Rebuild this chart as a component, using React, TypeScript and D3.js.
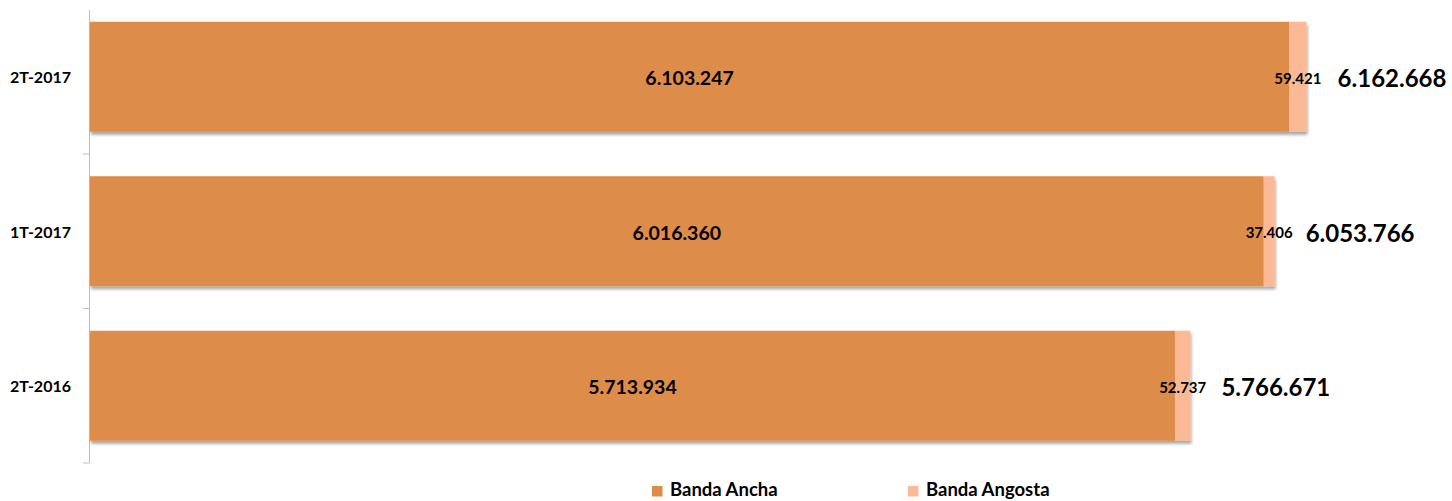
import React from "react";
import * as d3 from "d3";

const categories = ["2T-2017", "1T-2017", "2T-2016"];
const bandaAncha = [6103247, 6016360, 5713934];
const bandaAngosta = [59421, 37406, 52737];
const seriesNames = ["Banda Ancha", "Banda Angosta"];
const axisMin = 2015000;

const W = 1452;
const H = 501;
const COLORS = ["#DD8D48", "#FBB995"];
const FONT = "Lato, 'Open Sans', sans-serif";

const fmt = (v: number) => d3.format(",")(v).replace(/,/g, ".");

export default function App() {
  const totals = bandaAncha.map((v, i) => v + bandaAngosta[i]);
  const x = d3.scaleLinear().domain([axisMin, 6162668]).range([90, 1306.6]);
  const y = d3
    .scaleBand<string>()
    .domain(categories)
    .range([-0.5, 463])
    .paddingInner(0.288)
    .paddingOuter(0.144);
  const bw = y.bandwidth();
  const step = y.step();
  const tickYs = categories.map((c) => (y(c) as number) - (step - bw) / 2 + step);

  return (
    <svg
      width={W}
      height={H}
      style={{ position: "absolute", left: 0, top: 0, background: "#fff" }}
    >
      <defs>
        <filter id="sh" x="-5%" y="-20%" width="110%" height="140%">
          <feDropShadow dx="1" dy="3" stdDeviation="1.6" floodColor="#000" floodOpacity="0.35" />
        </filter>
      </defs>
      {/* axis */}
      <line x1={89.5} x2={89.5} y1={10} y2={463} stroke="#BFBFBF" strokeWidth={1} />
      {tickYs.map((t, i) => (
        <line key={i} x1={83} x2={89.5} y1={t} y2={t} stroke="#BFBFBF" strokeWidth={1} />
      ))}
      {categories.map((c, i) => {
        const y0 = y(c) as number;
        const cy = y0 + bw / 2;
        const x0 = x(axisMin);
        const x1 = x(bandaAncha[i] + axisMin - axisMin);
        const x2 = x(totals[i]);
        return (
          <g key={c}>
            <g filter="url(#sh)">
              <rect x={x0} y={y0} width={x1 - x0} height={bw} fill={COLORS[0]} />
              <rect x={x1} y={y0} width={x2 - x1} height={bw} fill={COLORS[1]} />
            </g>
            <text
              x={71}
              y={cy}
              textAnchor="end"
              dominantBaseline="central"
              fontFamily={FONT}
              fontWeight={700}
              fontSize={16}
              fill="#000"
            >
              {c}
            </text>
            <text
              x={(x0 + x1) / 2}
              y={cy + 1}
              textAnchor="middle"
              dominantBaseline="central"
              fontFamily={FONT}
              fontWeight={700}
              fontSize={19.5}
              fill="#000"
            >
              {fmt(bandaAncha[i])}
            </text>
            <text
              x={(x1 + x2) / 2}
              y={cy + 1}
              textAnchor="middle"
              dominantBaseline="central"
              fontFamily={FONT}
              fontWeight={700}
              fontSize={15}
              fill="#000"
            >
              {fmt(bandaAngosta[i])}
            </text>
            <text
              x={x2 + 31}
              y={cy + 1}
              textAnchor="start"
              dominantBaseline="central"
              fontFamily={FONT}
              fontWeight={700}
              fontSize={24}
              fill="#000"
            >
              {fmt(totals[i])}
            </text>
          </g>
        );
      })}
      {/* legend */}
      {seriesNames.map((s, i) => {
        const lx = [652, 908][i];
        return (
          <g key={s}>
            <rect x={lx} y={486} width={10.5} height={10.5} fill={COLORS[i]} />
            <text
              x={lx + 18}
              y={496}
              fontFamily={FONT}
              fontWeight={700}
              fontSize={18.5}
              fill="#000"
            >
              {s}
            </text>
          </g>
        );
      })}
    </svg>
  );
}
